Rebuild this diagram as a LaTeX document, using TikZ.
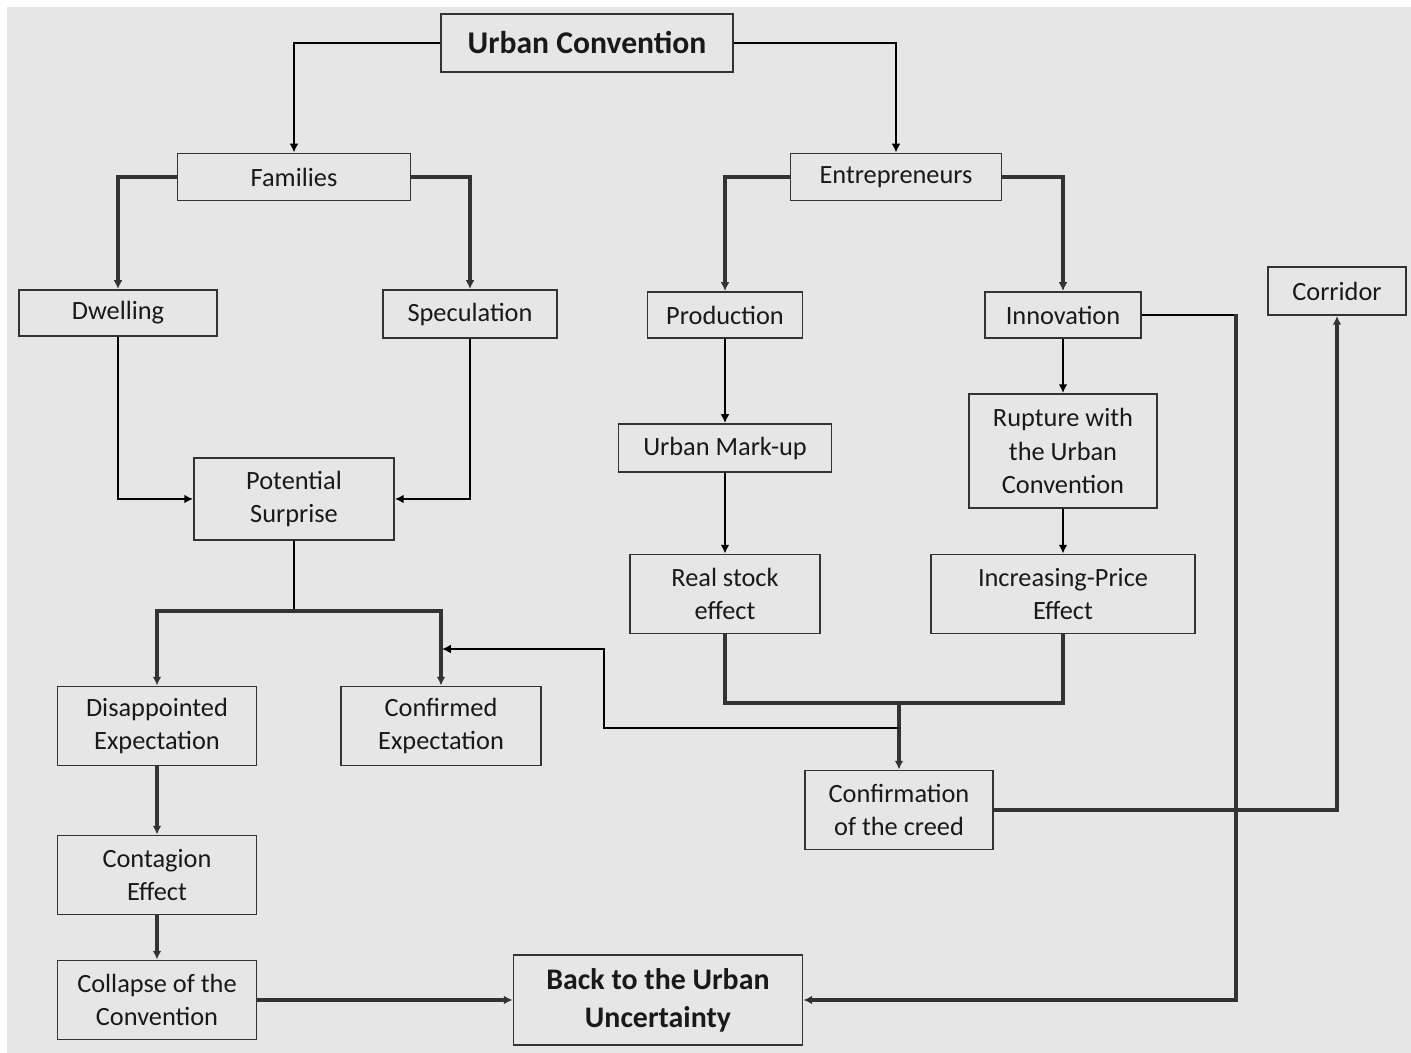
\documentclass[tikz,border=0pt]{standalone}
\usepackage{fontspec}
\setmainfont{Carlito}
\usetikzlibrary{positioning,arrows.meta}
\definecolor{panel}{HTML}{E6E6E6}
\definecolor{edgegray}{HTML}{333333}
\tikzset{
	box/.style={draw=edgegray, line width=1.1pt, fill=panel, align=center, inner sep=2pt, text=black!90, font=\fontsize{15}{19}\selectfont}, % plain boxes
	headbox/.style={box, font=\fontsize{18}{22}\selectfont\bfseries},
	link/.style={-{Latex[length=5pt,width=5pt]}, line width=1.1pt, black}, % thin black connector
	heavy/.style={-{Latex[length=5pt,width=5pt]}, line width=1.9pt, edgegray} % thicker grey connector
}

\begin{document}
\begin{tikzpicture}[x=0.02cm,y=-0.02cm]
	\useasboundingbox (0,0) rectangle (1411,1053);
	\fill[white] (0,0) rectangle (1411,1053);
	\fill[panel] (7,7) rectangle (1411,1053);
	% top levels
	\node[headbox, minimum width=5.84cm, minimum height=1.16cm] (uc) at (587,43) {Urban Convention};
	\node[box, minimum width=4.66cm, minimum height=0.94cm] (fam) at (294,177) {Families};
	\node[box, minimum width=4.22cm, minimum height=0.94cm] (ent) at (896,177) {Entrepreneurs};
	\node[box, minimum width=3.96cm, minimum height=0.92cm] (dwell) at (118,313) {Dwelling};
	\node[box, minimum width=3.48cm, minimum height=0.96cm] (spec) at (470,314) {Speculation};
	\node[box, minimum width=3.10cm, minimum height=0.92cm] (prod) at (725,315) {Production};
	\node[box, minimum width=3.12cm, minimum height=0.92cm] (innov) at (1063,315) {Innovation};
	\node[box, minimum width=2.76cm, minimum height=0.96cm] (corr) at (1337,291) {Corridor};
	% middle
	\node[box, minimum width=4.0cm, minimum height=1.64cm] (pot) at (294,499) {Potential\\Surprise};
	\node[box, minimum width=4.26cm, minimum height=0.96cm] (markup) at (725,448) {Urban Mark-up};
	\node[box, minimum width=3.76cm, minimum height=2.28cm] (rupt) at (1063,451) {Rupture with\\the Urban\\Convention};
	\node[box, minimum width=3.8cm, minimum height=1.58cm] (real) at (725,594) {Real stock\\effect};
	\node[box, minimum width=5.28cm, minimum height=1.58cm] (price) at (1063,594) {Increasing-Price\\Effect};
	% lower
	\node[box, minimum width=3.98cm, minimum height=1.58cm] (disap) at (157,726) {Disappointed\\Expectation};
	\node[box, minimum width=4.0cm, minimum height=1.58cm] (conf) at (441,726) {Confirmed\\Expectation};
	\node[box, minimum width=3.76cm, minimum height=1.58cm] (creed) at (899,810) {Confirmation\\of the creed};
	\node[box, minimum width=3.98cm, minimum height=1.58cm] (cont) at (157,875) {Contagion\\Effect};
	\node[box, minimum width=3.98cm, minimum height=1.58cm] (coll) at (157,1000) {Collapse of the\\Convention};
	\node[box, font=\fontsize{17}{21.5}\selectfont\bfseries, minimum width=5.78cm, minimum height=1.80cm] (back) at (658,1000) {Back to the Urban\\Uncertainty};
	% helper points
	\coordinate (split) at (294,611);
	\coordinate (join) at (899,703);
	\coordinate (tap) at (899,728);
	\coordinate (bend) at (604,649);
	\coordinate (hit) at (442,649);
	\coordinate (corner) at (1236,315);
	\coordinate (rail) at (1236,1000);
	% connectors
	\draw[link] (uc.west) -| (fam.north);
	\draw[link] (uc.east) -| (ent.north);
	\draw[heavy] (fam.west) -| (dwell.north);
	\draw[heavy] (fam.east) -| (spec.north);
	\draw[heavy] (ent.west) -| (prod.north);
	\draw[heavy] (ent.east) -| (innov.north);
	\draw[link] (dwell.south) |- (pot.west);
	\draw[link] (spec.south) |- (pot.east);
	\draw[link, -] (pot.south) -- (split);
	\draw[heavy] (split) -| (disap.north);
	\draw[heavy] (split) -| (conf.north);
	\draw[link] (prod) -- (markup);
	\draw[link] (markup) -- (real);
	\draw[link] (innov) -- (rupt);
	\draw[link] (rupt) -- (price);
	\draw[heavy, -] (real.south) |- (join) -| (price.south);
	\draw[heavy] (join) -- (creed.north);
	\draw[link] (tap) -| (bend) -- (hit);
	\draw[heavy] (creed.east) -| (corr.south);
	\draw[link, -] (innov.east) -- (corner);
	\draw[heavy] ([yshift=0.5pt]corner) -- (rail) -- (back.east);
	\draw[heavy] (disap) -- (cont);
	\draw[heavy] (cont) -- (coll);
	\draw[heavy] (coll) -- (back);
\end{tikzpicture}
\end{document}
